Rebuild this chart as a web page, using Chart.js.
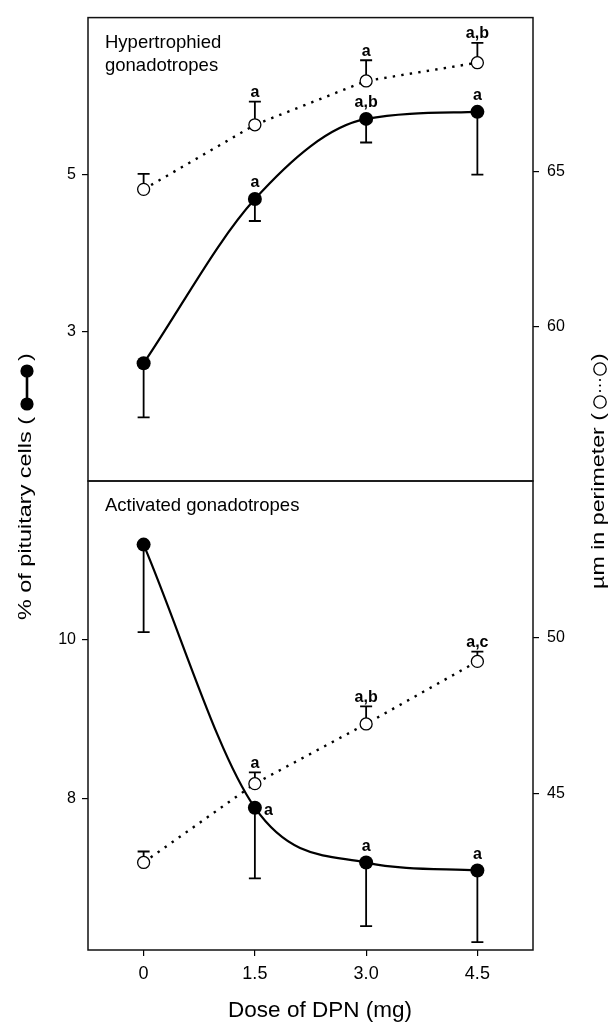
<!DOCTYPE html>
<html><head><meta charset="utf-8">
<script src="https://cdn.jsdelivr.net/npm/chart.js@4.4.0/dist/chart.umd.min.js"></script>
<style>
html,body{margin:0;padding:0;background:#fff;}
#wrap{position:relative;width:614px;height:1022px;background:#fff;}
canvas{position:absolute;left:0;top:0;}
</style></head><body>
<div id="wrap"><canvas id="cTop" width="614" height="1022"></canvas><canvas id="cBot" width="614" height="1022"></canvas></div>
<script>
// ---------- data ----------
const doses = [0, 1.5, 3.0, 4.5];
const xTickValues = [0, 1.5, 3.0, 4.5];
const xTickLabels = ["0", "1.5", "3.0", "4.5"];

// Top panel: hypertrophied gonadotropes
const hypPercent = [2.60, 4.69, 5.71, 5.80];
const hypPercentSE = [0.69, 0.28, 0.30, 0.80];
const hypPerimeter = [64.44, 66.53, 67.95, 68.54];
const hypPerimeterSE = [0.50, 0.75, 0.67, 0.64];
const hypPercentLetters = ["", "a", "a,b", "a"];
const hypPerimeterLetters = ["", "a", "a", "a,b"];

// Bottom panel: activated gonadotropes
const actPercent = [11.20, 7.89, 7.20, 7.10];
const actPercentSE = [1.10, 0.89, 0.80, 0.90];
const actPerimeter = [42.80, 45.32, 47.23, 49.23];
const actPerimeterSE = [0.35, 0.36, 0.56, 0.31];
const actPercentLetters = ["", "a", "a", "a"];
const actPerimeterLetters = ["", "a", "a,b", "a,c"];

const topLeftTicks = [3, 5];
const topRightTicks = [60, 65];
const botLeftTicks = [8, 10];
const botRightTicks = [45, 50];

// ---------- style ----------
const FONT = '"Liberation Sans", Arial, Helvetica, sans-serif';
Chart.defaults.font.family = FONT;
Chart.defaults.color = '#000';

const pts = (vals) => doses.map((d, i) => ({x: d, y: vals[i]}));

function yAxis(pos, min, max, ticks, width, pad) {
  return {
    type: 'linear', position: pos, min: min, max: max,
    afterBuildTicks: s => { s.ticks = ticks.map(v => ({value: v})); },
    afterFit: s => { s.width = width; },
    grid: {drawOnChartArea: false, drawTicks: true, tickLength: 6, color: '#000', lineWidth: 1.2},
    border: {display: false},
    ticks: {font: {size: 16}, color: '#000', padding: pad, callback: v => String(v)}
  };
}

function openDs(vals, se, letters) {
  return {
    data: pts(vals), yAxisID: 'yR', xAxisID: 'x',
    borderColor: '#000', borderWidth: 2.4, borderDash: [2.4, 6.2], borderCapStyle: 'butt',
    tension: 0, fill: false,
    pointRadius: 6, pointBackgroundColor: '#fff', pointBorderColor: '#000', pointBorderWidth: 1.3,
    se: se, errDir: 1, letters: letters
  };
}
function filledDs(vals, se, letters, letterPos) {
  return {
    data: pts(vals), yAxisID: 'yL', xAxisID: 'x',
    borderColor: '#000', borderWidth: 2.2, cubicInterpolationMode: 'monotone', fill: false,
    pointRadius: 7, pointBackgroundColor: '#000', pointBorderColor: '#000', pointBorderWidth: 0,
    se: se, errDir: -1, letters: letters, letterPos: letterPos
  };
}

const marks = {
  id: 'marks',
  beforeDatasetsDraw(chart) {
    const ctx = chart.ctx;
    chart.data.datasets.forEach((ds, i) => {
      const meta = chart.getDatasetMeta(i);
      const xs = chart.scales[meta.xAxisID], ys = chart.scales[meta.yAxisID];
      ctx.save();
      ctx.strokeStyle = '#000'; ctx.lineWidth = 1.8;
      ds.data.forEach((p, j) => {
        const x = xs.getPixelForValue(p.x);
        const y0 = ys.getPixelForValue(p.y);
        const y1 = ys.getPixelForValue(p.y + ds.errDir * ds.se[j]);
        ctx.beginPath();
        ctx.moveTo(x, y0); ctx.lineTo(x, y1);
        ctx.moveTo(x - 6, y1); ctx.lineTo(x + 6, y1);
        ctx.stroke();
      });
      ctx.restore();
    });
  },
  afterDatasetsDraw(chart) {
    const ctx = chart.ctx;
    ctx.save();
    ctx.fillStyle = '#000';
    ctx.font = 'bold 16px ' + FONT;
    ctx.textBaseline = 'alphabetic';
    chart.data.datasets.forEach((ds, i) => {
      const meta = chart.getDatasetMeta(i);
      const xs = chart.scales[meta.xAxisID], ys = chart.scales[meta.yAxisID];
      ds.data.forEach((p, j) => {
        const t = ds.letters[j];
        if (!t) return;
        const x = xs.getPixelForValue(p.x);
        const y0 = ys.getPixelForValue(p.y);
        if (ds.errDir > 0) {
          const y1 = ys.getPixelForValue(p.y + ds.se[j]);
          ctx.textAlign = 'center';
          ctx.fillText(t, x, y1 - 4.5);
        } else {
          const pos = ds.letterPos ? ds.letterPos[j] : 'above';
          if (pos === 'right') {
            ctx.textAlign = 'left';
            ctx.fillText(t, x + 9, y0 + 7);
          } else {
            ctx.textAlign = 'center';
            ctx.fillText(t, x, y0 - 12);
          }
        }
      });
    });
    ctx.restore();
  },
  afterDraw(chart) {
    const ctx = chart.ctx, a = chart.chartArea;
    ctx.save();
    ctx.strokeStyle = '#111'; ctx.lineWidth = 1.5;
    ctx.strokeRect(a.left, a.top, a.right - a.left, a.bottom - a.top);
    ctx.restore();
  }
};

const topText = {
  id: 'topText',
  afterDraw(chart) {
    const ctx = chart.ctx;
    ctx.save();
    ctx.fillStyle = '#000';
    ctx.font = '18.5px ' + FONT;
    ctx.textAlign = 'left'; ctx.textBaseline = 'alphabetic';
    ctx.fillText('Hypertrophied', 105, 48);
    ctx.fillText('gonadotropes', 105, 71);
    ctx.restore();
  }
};

function rotatedTitle(ctx, cx, bottomY, text, textEnd, drawSymbol) {
  ctx.save();
  ctx.translate(cx, bottomY);
  ctx.rotate(-Math.PI / 2);
  ctx.font = '19px ' + FONT;
  ctx.textAlign = 'left'; ctx.textBaseline = 'middle';
  const w = ctx.measureText(text).width;
  const target = bottomY - textEnd;
  ctx.save();
  ctx.scale(target / w, 1);
  ctx.fillText(text, 0, 0);
  ctx.restore();
  drawSymbol(ctx, (screenY) => bottomY - screenY);
  ctx.restore();
}

const botText = {
  id: 'botText',
  afterDraw(chart) {
    const ctx = chart.ctx;
    ctx.save();
    ctx.fillStyle = '#000';
    ctx.font = '18.5px ' + FONT;
    ctx.textAlign = 'left'; ctx.textBaseline = 'alphabetic';
    ctx.fillText('Activated gonadotropes', 105, 511);

    // x title
    ctx.font = '22.5px ' + FONT;
    ctx.textAlign = 'center';
    ctx.fillText('Dose of DPN (mg)', 320, 1017);

    // left y title: "% of pituitary cells (●—●)"
    rotatedTitle(ctx, 26, 620, '% of pituitary cells (', 417, (c, P) => {
      const c1 = P(404), c2 = P(371);
      c.strokeStyle = '#000'; c.lineWidth = 2.6;
      c.beginPath(); c.moveTo(c1, 1); c.lineTo(c2, 1); c.stroke();
      c.beginPath(); c.arc(c1, 1, 6.6, 0, Math.PI * 2); c.fill();
      c.beginPath(); c.arc(c2, 1, 6.6, 0, Math.PI * 2); c.fill();
      c.save(); c.translate(P(361), 0); c.scale(1.2, 1); c.fillText(')', 0, 0); c.restore();
    });

    // right y title: "µm in perimeter (○···○)"
    rotatedTitle(ctx, 599, 589, 'µm in perimeter (', 413, (c, P) => {
      const o2 = P(402), o1 = P(369);
      c.strokeStyle = '#000'; c.lineWidth = 1.3;
      c.beginPath(); c.arc(o1, 1, 6.2, 0, Math.PI * 2); c.stroke();
      c.beginPath(); c.arc(o2, 1, 6.2, 0, Math.PI * 2); c.stroke();
      for (let k = 0; k < 3; k++) {
        c.beginPath(); c.arc(o2 + 11 + k * 5.5, 1, 1.1, 0, Math.PI * 2); c.fill();
      }
      c.save(); c.translate(P(361), 0); c.scale(1.2, 1); c.fillText(')', 0, 0); c.restore();
    });

    ctx.restore();
  }
};

// ---------- top chart ----------
new Chart(document.getElementById('cTop'), {
  type: 'line',
  data: {datasets: [
    filledDs(hypPercent, hypPercentSE, hypPercentLetters, null),
    openDs(hypPerimeter, hypPerimeterSE, hypPerimeterLetters)
  ]},
  options: {
    responsive: false, animation: false, events: [],
    layout: {padding: {top: 13, bottom: 541, left: 0, right: 0}},
    plugins: {legend: {display: false}, tooltip: {enabled: false}},
    scales: {
      x: {type: 'linear', min: -0.75, max: 5.25, display: false},
      yL: yAxis('left', 1.1, 7.0, topLeftTicks, 88, 6),
      yR: yAxis('right', 55, 70, topRightTicks, 81, 8)
    }
  },
  plugins: [marks, topText]
});

// ---------- bottom chart ----------
new Chart(document.getElementById('cBot'), {
  type: 'line',
  data: {datasets: [
    filledDs(actPercent, actPercentSE, actPercentLetters, ['above', 'right', 'above', 'above']),
    openDs(actPerimeter, actPerimeterSE, actPerimeterLetters)
  ]},
  options: {
    responsive: false, animation: false, events: [],
    layout: {padding: {top: 481, bottom: 0, left: 0, right: 0}},
    plugins: {legend: {display: false}, tooltip: {enabled: false}},
    scales: {
      x: {
        type: 'linear', min: -0.75, max: 5.25, position: 'bottom',
        afterBuildTicks: s => { s.ticks = xTickValues.map(v => ({value: v})); },
        afterFit: s => { s.height = 72; },
        grid: {drawOnChartArea: false, drawTicks: true, tickLength: 6, color: '#000', lineWidth: 1.2},
        border: {display: false},
        ticks: {font: {size: 18}, color: '#000', padding: 7, maxRotation: 0, autoSkip: false,
          callback: (v) => { const k = xTickValues.indexOf(v); return k >= 0 ? xTickLabels[k] : ''; }}
      },
      yL: yAxis('left', 6.1, 12.0, botLeftTicks, 88, 6),
      yR: yAxis('right', 40, 55, botRightTicks, 81, 8)
    }
  },
  plugins: [marks, botText]
});
</script>
</body></html>
